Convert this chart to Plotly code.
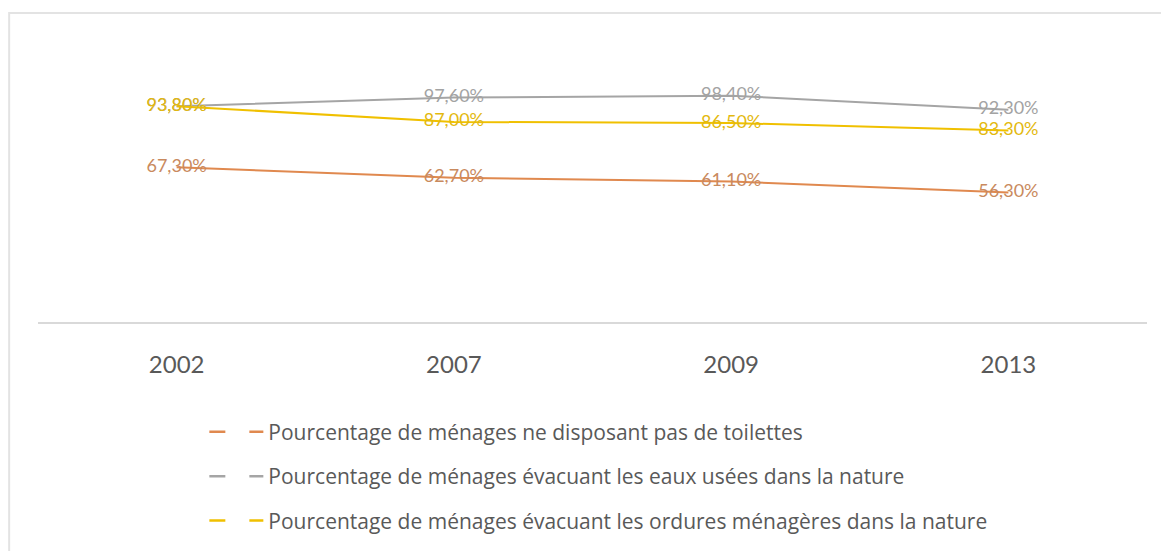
import plotly.graph_objects as go

years = ["2002", "2007", "2009", "2013"]
series_names = [
    "Pourcentage de ménages ne disposant pas de toilettes",
    "Pourcentage de ménages évacuant les eaux usées dans la nature",
    "Pourcentage de ménages évacuant les ordures ménagères dans la nature",
]
sans_toilettes = [67.3, 62.7, 61.1, 56.3]
eaux_usees = [93.8, 97.6, 98.4, 92.3]
ordures = [93.8, 87.0, 86.5, 83.3]

line_colors = ["#e0894f", "#a5a5a5", "#f0c000"]
label_colors = ["#c98a5e", "#a3a3a3", "#e3b90f"]
values = [sans_toilettes, eaux_usees, ordures]


def fr_pct(v):
    return f"{v:.2f}".replace(".", ",") + "%"


fig = go.Figure()

# Data lines with centred value labels
for name, vals, lc, tc in zip(series_names, values, line_colors, label_colors):
    fig.add_trace(go.Scatter(
        x=years, y=vals, mode="lines+text", name=name,
        line=dict(color=lc, width=2),
        text=[fr_pct(v) for v in vals],
        textposition="middle center",
        textfont=dict(family="Lato", size=18, color=tc),
        showlegend=False, cliponaxis=False,
    ))

# Legend entries shown with long two-dash keys
for i, (name, lc) in enumerate(zip(series_names, line_colors)):
    fig.add_trace(go.Scatter(
        x=[None], y=[None], mode="lines", name=name,
        line=dict(color=lc, width=2.5, dash="16px,24px,20px,10px"),
        legendgroup=f"g{i}", showlegend=True,
    ))

fig.update_layout(
    width=1161, height=551,
    margin=dict(l=38, r=14, t=46, b=229, autoexpand=False),
    paper_bgcolor="white", plot_bgcolor="white",
    showlegend=True,
    legend=dict(
        x=0.15, y=-0.325, xanchor="left", yanchor="top",
        traceorder="grouped", tracegroupgap=14,
        font=dict(family="Open Sans", size=21, color="#595959"),
        itemwidth=54, bgcolor="rgba(0,0,0,0)",
    ),
    xaxis=dict(
        type="category", range=[-0.5, 3.5],
        showgrid=False, zeroline=False,
        showline=True, linecolor="#d9d9d9", linewidth=2,
        ticks="", ticklabelstandoff=20,
        tickfont=dict(family="Lato", size=24, color="#595959"),
        fixedrange=True,
    ),
    yaxis=dict(
        range=[0, 120], visible=False, showgrid=False, zeroline=False,
        fixedrange=True,
    ),
    shapes=[dict(
        type="rect", xref="paper", yref="paper",
        x0=-0.026, x1=1.03, y0=-0.9, y1=1.12,
        line=dict(color="#e3e3e3", width=2), fillcolor="rgba(0,0,0,0)",
        layer="below",
    )],
)

fig.write_html("out.html")
